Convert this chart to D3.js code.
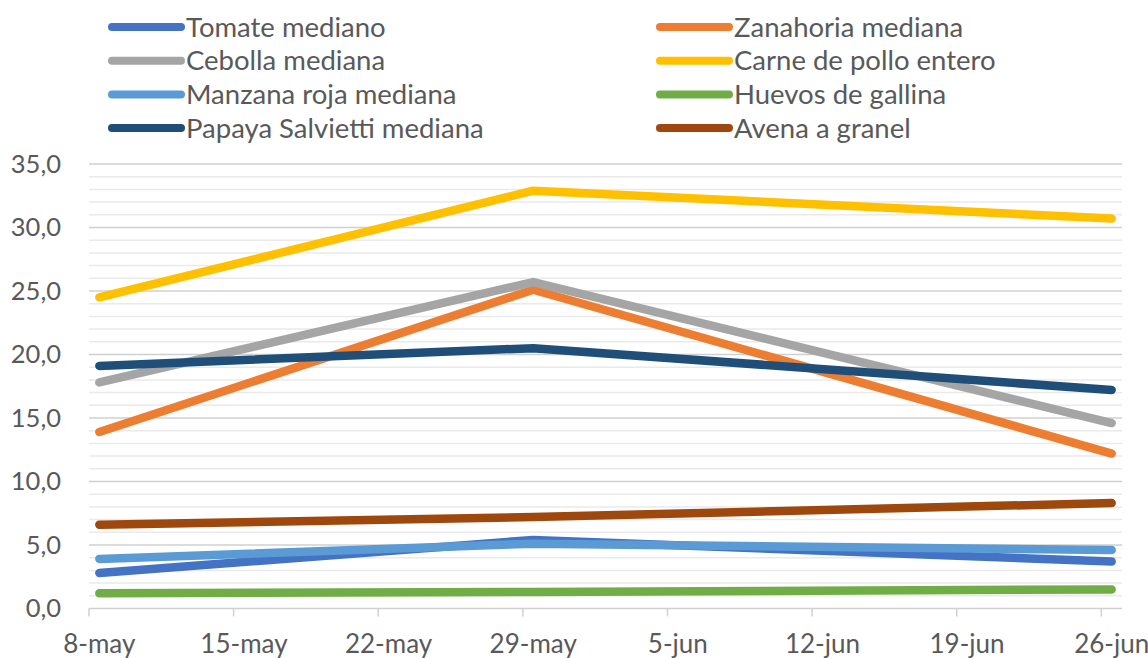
<!DOCTYPE html>
<html>
<head>
<meta charset="utf-8">
<script src="https://cdn.jsdelivr.net/npm/d3@7"></script>
<style>
  body { margin: 0; background: #fff; }
  text { font-family: Lato, "Open Sans", sans-serif; fill: #595959; }
</style>
</head>
<body>
<svg id="chart" width="1148" height="658"></svg>
<script>
// data
const obsDates = ["2020-05-08", "2020-05-29", "2020-06-26"];
const tickDates = ["2020-05-08", "2020-05-15", "2020-05-22", "2020-05-29",
                   "2020-06-05", "2020-06-12", "2020-06-19", "2020-06-26"];
const tickLabels = ["8-may", "15-may", "22-may", "29-may", "5-jun", "12-jun", "19-jun", "26-jun"];
const yTicks = [0, 5, 10, 15, 20, 25, 30, 35];

const seriesNames = ["Tomate mediano", "Zanahoria mediana", "Cebolla mediana", "Carne de pollo entero",
                     "Manzana roja mediana", "Huevos de gallina", "Papaya Salvietti mediana", "Avena a granel"];
const seriesColors = ["#4472C4", "#ED7D31", "#A5A5A5", "#FFC000",
                      "#5B9BD5", "#70AD47", "#1F4E79", "#9E480E"];
const tomate    = [2.8, 5.4, 3.7];
const zanahoria = [13.9, 25.1, 12.2];
const cebolla   = [17.8, 25.7, 14.6];
const carne     = [24.5, 32.9, 30.7];
const manzana   = [3.9, 5.1, 4.6];
const huevos    = [1.2, 1.3, 1.5];
const papaya    = [19.1, 20.5, 17.2];
const avena     = [6.6, 7.2, 8.3];
const seriesValues = [tomate, zanahoria, cebolla, carne, manzana, huevos, papaya, avena];

const parse = d3.utcParse("%Y-%m-%d");
const svg = d3.select("#chart");

const plotLeft = 89, plotRight = 1122, plotTop = 164, plotBottom = 608.5;

// date axis: one slot per day, points sit in the middle of their day
let x = d3.scaleUtc()
  .domain([parse(tickDates[0]), d3.utcDay.offset(parse(tickDates[tickDates.length - 1]), 1)])
  .range([plotLeft, plotRight]);
let mid = d => d3.utcHour.offset(d, 12);

let y = d3.scaleLinear().domain([0, 35]).range([plotBottom, plotTop]);

// minor gridlines
svg.append("g")
  .selectAll("line")
  .data(d3.range(0, 36).filter(v => v % 5 != 0))
  .enter()
  .append("line")
  .attr("x1", plotLeft)
  .attr("x2", plotRight)
  .attr("y1", v => y(v))
  .attr("y2", v => y(v))
  .attr("stroke", "#EAEAEA")
  .attr("stroke-width", 1.5)
;

// major gridlines
svg.append("g")
  .selectAll("line")
  .data(yTicks.slice(1))
  .enter()
  .append("line")
  .attr("x1", plotLeft)
  .attr("x2", plotRight)
  .attr("y1", v => y(v))
  .attr("y2", v => y(v))
  .attr("stroke", "#D0D0D0")
  .attr("stroke-width", 1.5)
;

// y labels
svg.append("g")
  .selectAll("text")
  .data(yTicks)
  .enter()
  .append("text")
  .attr("x", 61)
  .attr("y", v => y(v))
  .attr("dy", "0.35em")
  .attr("text-anchor", "end")
  .style("font-size", "25.5px")
  .text(v => d3.format(".1f")(v).replace(".", ","))
;

// x axis line + ticks
svg.append("line")
  .attr("x1", plotLeft)
  .attr("x2", plotRight)
  .attr("y1", y(0))
  .attr("y2", y(0))
  .attr("stroke", "#D0D0D0")
  .attr("stroke-width", 1.5)
;
svg.append("g")
  .selectAll("line")
  .data(tickDates)
  .enter()
  .append("line")
  .attr("x1", d => x(parse(d)))
  .attr("x2", d => x(parse(d)))
  .attr("y1", y(0))
  .attr("y2", y(0) + 8)
  .attr("stroke", "#D0D0D0")
  .attr("stroke-width", 1.5)
;
svg.append("g")
  .selectAll("text")
  .data(tickDates)
  .enter()
  .append("text")
  .attr("x", d => x(mid(parse(d))))
  .attr("y", 653)
  .attr("text-anchor", "middle")
  .style("font-size", "26px")
  .text((d, i) => tickLabels[i])
;

// series lines
let line = d3.line()
  .x((v, i) => x(mid(parse(obsDates[i]))))
  .y(v => y(v))
  .curve(d3.curveLinear)
;
svg.append("g")
  .selectAll("path")
  .data(seriesValues)
  .enter()
  .append("path")
  .style("fill", "none")
  .style("stroke", (d, i) => seriesColors[i])
  .style("stroke-width", 8.5)
  .style("stroke-linecap", "round")
  .style("stroke-linejoin", "round")
  .attr("d", d => line(d))
;

// legend, two columns
let legend = svg.append("g")
  .selectAll("g")
  .data(seriesNames)
  .enter()
  .append("g")
  .attr("transform", (d, i) => `translate(${i % 2 == 0 ? 112 : 660}, ${27 + Math.floor(i / 2) * 33.7})`)
;
legend.append("line")
  .attr("x1", 0)
  .attr("x2", 69)
  .attr("stroke", (d, i) => seriesColors[i])
  .attr("stroke-width", 8)
  .attr("stroke-linecap", "round")
;
legend.append("text")
  .attr("x", 74)
  .attr("dy", "0.35em")
  .style("font-size", "27.5px")
  .text(d => d)
;
</script>
</body>
</html>
